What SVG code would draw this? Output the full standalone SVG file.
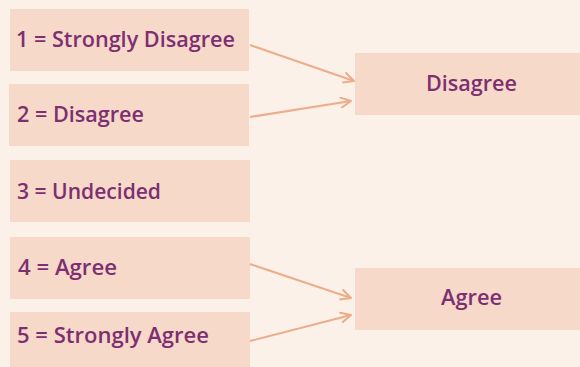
<svg xmlns="http://www.w3.org/2000/svg" width="580" height="367" viewBox="0 0 580 367">
  <defs>
    <marker id="arrow" viewBox="0 0 12 12" refX="11" refY="6" markerWidth="12" markerHeight="12" markerUnits="userSpaceOnUse" orient="auto">
      <path d="M1,1 L11,6 L1,11" fill="none" stroke="#EDAC8A" stroke-width="2" stroke-linecap="round" stroke-linejoin="round"/>
    </marker>
  </defs>
  <style>
    .box { fill: #F6D9C8; }
    .label { font-family: "Open Sans", "Lato", "Liberation Sans", sans-serif; font-weight: 600; font-size: 21px; fill: #7E2F72; }
    .link { fill: none; stroke: #EDAC8A; stroke-width: 2; marker-end: url(#arrow); }
  </style>
  <rect width="580" height="367" fill="#FBF1E8"/>

  <g id="scale-1">
    <rect class="box" x="10" y="9" width="239" height="62"/>
    <text class="label" x="16" y="47" textLength="219" lengthAdjust="spacingAndGlyphs">1 = Strongly Disagree</text>
  </g>
  <g id="scale-2">
    <rect class="box" x="9" y="84" width="240" height="62"/>
    <text class="label" x="17" y="122" textLength="127" lengthAdjust="spacingAndGlyphs">2 = Disagree</text>
  </g>
  <g id="scale-3">
    <rect class="box" x="10" y="160" width="240" height="62"/>
    <text class="label" x="17" y="199" textLength="144" lengthAdjust="spacingAndGlyphs">3 = Undecided</text>
  </g>
  <g id="scale-4">
    <rect class="box" x="10" y="237" width="240" height="62"/>
    <text class="label" x="18" y="275" textLength="99" lengthAdjust="spacingAndGlyphs">4 = Agree</text>
  </g>
  <g id="scale-5">
    <rect class="box" x="10" y="312" width="240" height="62"/>
    <text class="label" x="17" y="343" textLength="192" lengthAdjust="spacingAndGlyphs">5 = Strongly Agree</text>
  </g>

  <g id="group-disagree">
    <rect class="box" x="355" y="53" width="230" height="62"/>
    <text class="label" x="426" y="91" textLength="91" lengthAdjust="spacingAndGlyphs">Disagree</text>
  </g>
  <g id="group-agree">
    <rect class="box" x="355" y="268" width="230" height="62"/>
    <text class="label" x="441" y="305" textLength="61" lengthAdjust="spacingAndGlyphs">Agree</text>
  </g>

  <g id="connectors">
    <line class="link" x1="250" y1="45" x2="354" y2="81"/>
    <line class="link" x1="250" y1="117" x2="351" y2="101"/>
    <line class="link" x1="250" y1="264" x2="351" y2="298"/>
    <line class="link" x1="250" y1="341" x2="351" y2="315"/>
  </g>
</svg>
